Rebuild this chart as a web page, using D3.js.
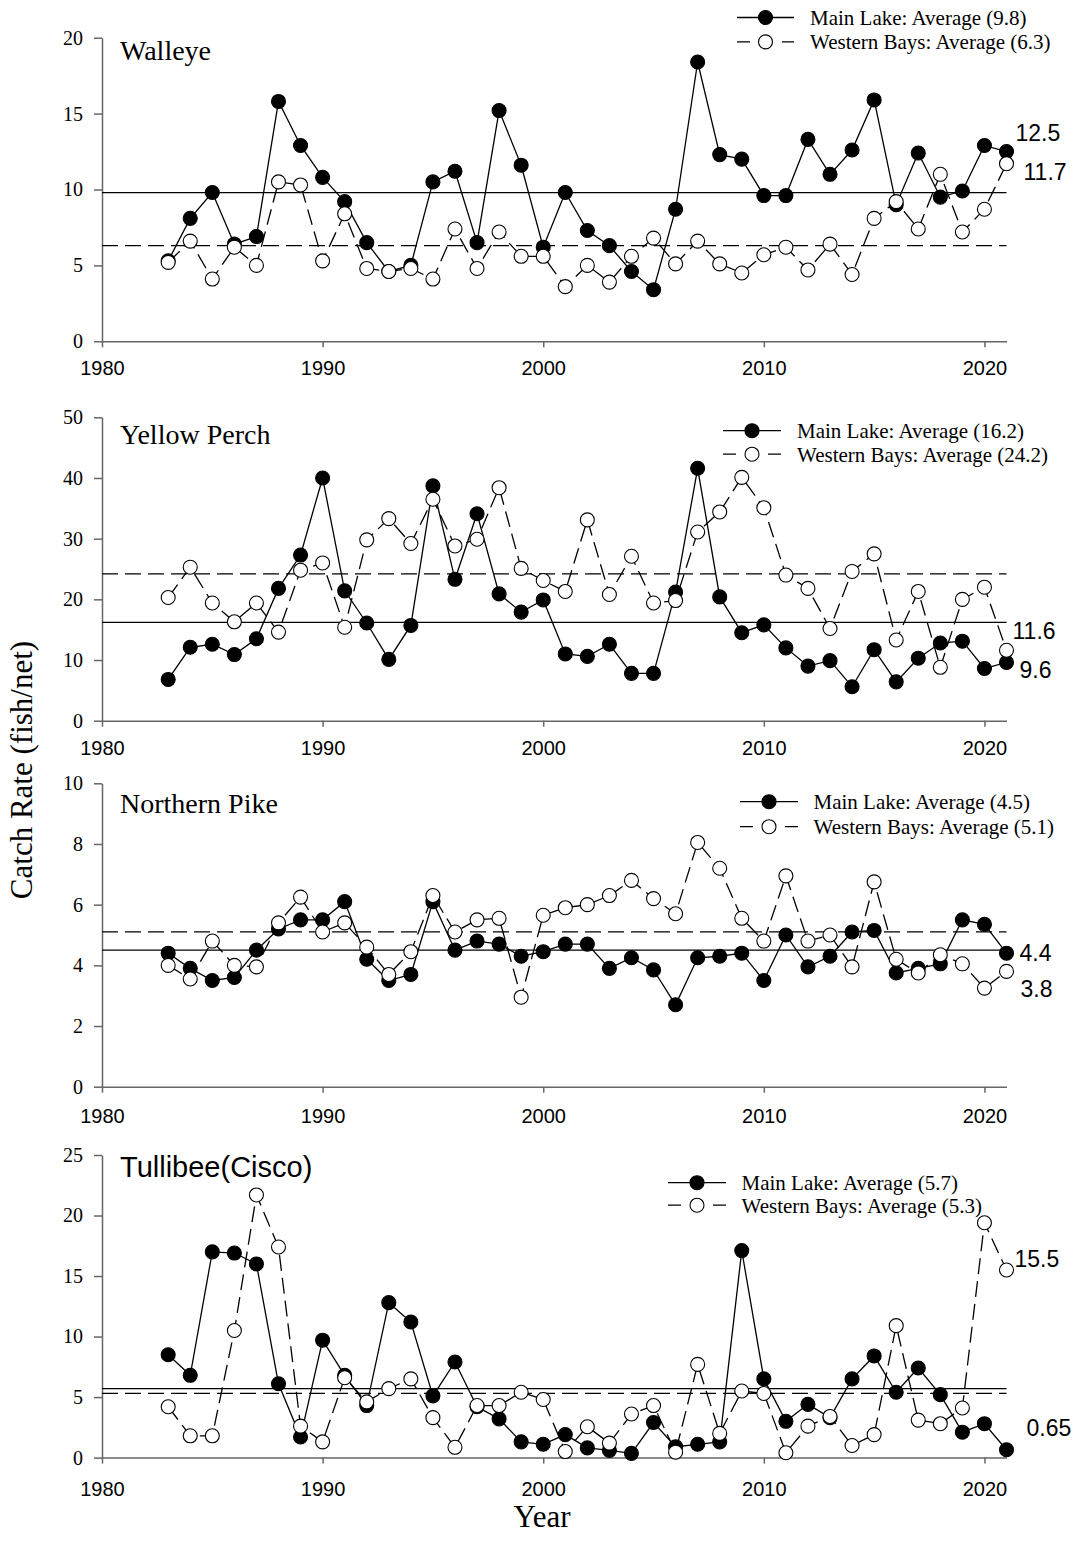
<!DOCTYPE html>
<html>
<head>
<meta charset="utf-8">
<script src="https://cdn.jsdelivr.net/npm/d3@7"></script>
<style>
  body { margin: 0; background: #fff; }
  svg { display: block; }
</style>
</head>
<body>
<svg id="chart" width="1081" height="1549"></svg>
<script>
// Survey years (x categories)
const years = [1983, 1984, 1985, 1986, 1987, 1988, 1989, 1990, 1991, 1992,
               1993, 1994, 1995, 1996, 1997, 1998, 1999, 2000, 2001, 2002,
               2003, 2004, 2005, 2006, 2007, 2008, 2009, 2010, 2011, 2012,
               2013, 2014, 2015, 2016, 2017, 2018, 2019, 2020, 2021];

// Catch rate (fish/net), Main Lake and Western Bays
const walleyeMain = [5.3, 8.1, 9.8, 6.4, 6.9, 15.8, 12.9, 10.8, 9.2, 6.5, 4.6, 5.0, 10.5, 11.2, 6.5, 15.2, 11.6, 6.2,
                     9.8, 7.3, 6.3, 4.6, 3.4, 8.7, 18.4, 12.3, 12.0, 9.6, 9.6, 13.3, 11.0, 12.6, 15.9, 9.0, 12.4, 9.5, 9.9, 12.9, 12.5];
const walleyeWest = [5.2, 6.6, 4.1, 6.2, 5.0, 10.5, 10.3, 5.3, 8.4, 4.8, 4.6, 4.8, 4.1, 7.4, 4.8, 7.2, 5.6, 5.6,
                     3.6, 5.0, 3.9, 5.6, 6.8, 5.1, 6.6, 5.1, 4.5, 5.7, 6.2, 4.7, 6.4, 4.4, 8.1, 9.2, 7.4, 11.0, 7.2, 8.7, 11.7];

const perchMain = [6.8, 12.1, 12.6, 10.9, 13.5, 21.8, 27.3, 40.0, 21.4, 16.1, 10.1, 15.7, 38.7, 23.3, 34.1, 20.9, 17.9, 19.9,
                   11.0, 10.6, 12.6, 7.8, 7.8, 21.2, 41.6, 20.4, 14.5, 15.8, 12.0, 9.0, 9.9, 5.6, 11.7, 6.4, 10.3, 12.8, 13.1, 8.6, 9.6];
const perchWest = [20.3, 25.3, 19.4, 16.3, 19.4, 14.6, 24.8, 26.0, 15.4, 29.8, 33.3, 29.2, 36.5, 28.8, 29.9, 38.4, 25.1, 23.1,
                   21.3, 33.1, 20.8, 27.1, 19.4, 19.8, 31.1, 34.4, 40.1, 35.1, 24.0, 21.8, 15.2, 24.6, 27.5, 13.3, 21.3, 8.8, 20.0, 22.0, 11.6];

const pikeMain = [4.4, 3.9, 3.5, 3.6, 4.5, 5.2, 5.5, 5.5, 6.1, 4.2, 3.5, 3.7, 6.1, 4.5, 4.8, 4.7, 4.3, 4.45,
                  4.7, 4.7, 3.9, 4.25, 3.85, 2.7, 4.25, 4.3, 4.4, 3.5, 5.0, 3.95, 4.3, 5.1, 5.15, 3.75, 3.9, 4.05, 5.5, 5.35, 4.4];
const pikeWest = [4.0, 3.55, 4.8, 4.0, 3.95, 5.4, 6.25, 5.1, 5.4, 4.6, 3.7, 4.45, 6.3, 5.1, 5.5, 5.55, 2.95, 5.65,
                  5.9, 6.0, 6.3, 6.8, 6.2, 5.7, 8.05, 7.2, 5.55, 4.8, 6.95, 4.8, 5.0, 3.95, 6.75, 4.2, 3.75, 4.35, 4.05, 3.25, 3.8];

const tullibeeMain = [8.5, 6.8, 17.0, 16.9, 16.0, 6.1, 1.7, 9.7, 6.8, 4.3, 12.8, 11.2, 5.1, 7.9, 4.2, 3.2, 1.3, 1.1,
                      1.9, 0.8, 0.6, 0.35, 2.9, 0.9, 1.1, 1.3, 17.1, 6.5, 3.0, 4.4, 3.3, 6.5, 8.4, 5.4, 7.4, 5.2, 2.1, 2.8, 0.65];
const tullibeeWest = [4.2, 1.8, 1.8, 10.5, 21.7, 17.4, 2.6, 1.3, 6.6, 4.6, 5.7, 6.5, 3.3, 0.85, 4.3, 4.3, 5.4, 4.8,
                      0.5, 2.55, 1.2, 3.6, 4.3, 0.45, 7.7, 2.0, 5.5, 5.3, 0.4, 2.6, 3.4, 1.0, 1.9, 10.9, 3.1, 2.8, 4.1, 19.4, 15.5];

// Long-term averages [Main Lake, Western Bays]
const walleyeAvg = [9.8, 6.3];
const perchAvg = [16.2, 24.2];
const pikeAvg = [4.5, 5.1];
const tullibeeAvg = [5.7, 5.3];

// Species names and axis ticks
const speciesNames = ["Walleye", "Yellow Perch", "Northern Pike", "Tullibee(Cisco)"];
const yTickValues = [[0, 5, 10, 15, 20], [0, 10, 20, 30, 40, 50], [0, 2, 4, 6, 8, 10], [0, 5, 10, 15, 20, 25]];
const xTickValues = [1980, 1990, 2000, 2010, 2020];
const seriesNames = ["Main Lake", "Western Bays"];

// ---- layout -------------------------------------------------------------
const serif = "'Liberation Serif', 'Times New Roman', serif";
const sans = "'Liberation Sans', Arial, sans-serif";
const axisColor = "#666";

const panels = [
  { main: walleyeMain, west: walleyeWest, avg: walleyeAvg, top: 37.7, bottom: 341.3,
    titleFont: serif, titleSize: 28, titleY: 60, xLabelGap: 27,
    legend: { x0: 737, x1: 794, ty: 17.5, dy: 24.4, tx: 810 },
    endLabels: [{ s: 0, dx: 9, dy: -19 }, { s: 1, dx: 17, dy: 8 }] },
  { main: perchMain, west: perchWest, avg: perchAvg, top: 417.3, bottom: 720.7,
    titleFont: serif, titleSize: 28, titleY: 444, xLabelGap: 27,
    legend: { x0: 723, x1: 781, ty: 430.7, dy: 23.5, tx: 797 },
    endLabels: [{ s: 1, dx: 6, dy: -20 }, { s: 0, dx: 13, dy: 7.5 }] },
  { main: pikeMain, west: pikeWest, avg: pikeAvg, top: 783.3, bottom: 1086.7,
    titleFont: serif, titleSize: 28, titleY: 812.5, xLabelGap: 29,
    legend: { x0: 740, x1: 798, ty: 801.7, dy: 25, tx: 813.5 },
    endLabels: [{ s: 0, dx: 13, dy: 0 }, { s: 1, dx: 14, dy: 17 }] },
  { main: tullibeeMain, west: tullibeeWest, avg: tullibeeAvg, top: 1155, bottom: 1457.6,
    titleFont: sans, titleSize: 29, titleY: 1177, xLabelGap: 31,
    legend: { x0: 668, x1: 726, ty: 1182.7, dy: 22.5, tx: 741.5 },
    endLabels: [{ s: 1, dx: 8, dy: -11 }, { s: 0, dx: 20, dy: -22 }] }
];

const svg = d3.select("#chart");
const x = d3.scaleLinear().domain([1980, 2021]).range([102, 1006.5]);
const R = 7;
const dashPattern = "16,7";

panels.forEach((p, i) => {
  const y = d3.scaleLinear().domain([0, yTickValues[i][yTickValues[i].length - 1]])
    .range([p.bottom, p.top]);
  const g = svg.append("g");

  // axes
  const yAxis = g.append("g").attr("transform", `translate(${x(1980)},0)`)
    .call(d3.axisLeft(y).tickValues(yTickValues[i]).tickSize(8).tickSizeOuter(0).tickPadding(11));
  yAxis.selectAll("text").attr("font-family", serif).attr("font-size", 20).attr("fill", "#000");

  const xAxis = g.append("g").attr("transform", `translate(0,${p.bottom})`)
    .call(d3.axisBottom(x).tickValues(xTickValues).tickFormat(d3.format("d"))
      .tickSize(6).tickSizeOuter(0).tickPadding(p.xLabelGap - 13));
  xAxis.selectAll("text").attr("font-family", sans).attr("font-size", 20).attr("fill", "#000");

  [yAxis, xAxis].forEach(a => {
    a.select(".domain").attr("stroke", axisColor).attr("stroke-width", 1.5);
    a.selectAll(".tick line").attr("stroke", axisColor).attr("stroke-width", 1.5);
  });

  // averages
  p.avg.forEach((v, k) => {
    g.append("line")
      .attr("x1", x(1980)).attr("x2", x(2021))
      .attr("y1", y(v)).attr("y2", y(v))
      .attr("stroke", "#000").attr("stroke-width", 1.2)
      .attr("stroke-dasharray", k === 1 ? dashPattern : null);
  });

  // series: Main Lake (solid, filled) then Western Bays (dashed, open)
  const line = d3.line().x(d => x(d[0])).y(d => y(d[1]));
  [p.main, p.west].forEach((vals, k) => {
    const pts = years.map((yr, j) => [yr, vals[j]]);
    g.append("path").datum(pts)
      .attr("d", line).attr("fill", "none")
      .attr("stroke", "#000").attr("stroke-width", 1.3)
      .attr("stroke-dasharray", k === 1 ? dashPattern : null);
    g.selectAll(null).data(pts).enter().append("circle")
      .attr("cx", d => x(d[0])).attr("cy", d => y(d[1])).attr("r", R)
      .attr("fill", k === 0 ? "#000" : "#fff")
      .attr("stroke", "#000").attr("stroke-width", 1.1);
  });

  // species title
  g.append("text").attr("x", 120).attr("y", p.titleY)
    .attr("font-family", p.titleFont).attr("font-size", p.titleSize).attr("fill", "#000")
    .text(speciesNames[i]);

  // legend
  const L = p.legend;
  [0, 1].forEach(k => {
    const ly = L.ty + k * L.dy;
    const lg = g.append("g");
    lg.append("line").attr("x1", L.x0).attr("x2", L.x1).attr("y1", ly).attr("y2", ly)
      .attr("stroke", "#000").attr("stroke-width", 1.3)
      .attr("stroke-dasharray", k === 1 ? "13,32,13" : null);
    lg.append("circle").attr("cx", (L.x0 + L.x1) / 2).attr("cy", ly).attr("r", R)
      .attr("fill", k === 0 ? "#000" : "#fff").attr("stroke", "#000").attr("stroke-width", 1.1);
    lg.append("text").attr("x", L.tx).attr("y", ly).attr("dy", "0.35em")
      .attr("font-family", serif).attr("font-size", 21).attr("fill", "#000")
      .text(`${seriesNames[k]}: Average (${p.avg[k]})`);
  });

  // latest-year value labels
  const last = years.length - 1;
  p.endLabels.forEach(e => {
    const v = (e.s === 0 ? p.main : p.west)[last];
    g.append("text").attr("x", x(years[last]) + e.dx).attr("y", y(v) + e.dy).attr("dy", "0.36em")
      .attr("font-family", sans).attr("font-size", 23).attr("fill", "#000")
      .text(v);
  });
});

// shared axis titles
svg.append("text")
  .attr("transform", "translate(32,770) rotate(-90)")
  .attr("text-anchor", "middle")
  .attr("font-family", serif).attr("font-size", 31).attr("fill", "#000")
  .text("Catch Rate (fish/net)");

svg.append("text")
  .attr("x", 542).attr("y", 1527)
  .attr("text-anchor", "middle")
  .attr("font-family", serif).attr("font-size", 31).attr("fill", "#000")
  .text("Year");
</script>
</body>
</html>
